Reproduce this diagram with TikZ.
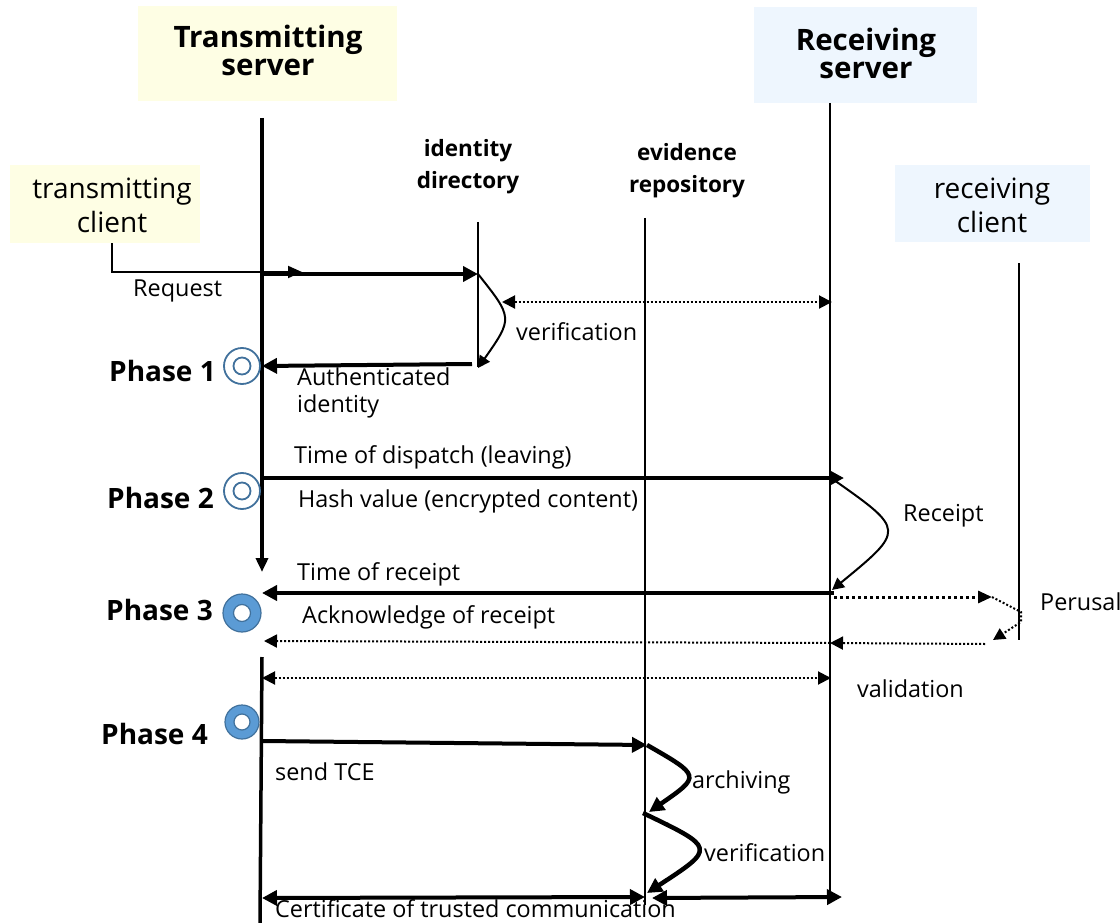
\documentclass[tikz,border=0pt]{standalone}
\usepackage{fontspec}
\setmainfont{Open Sans}
\usetikzlibrary{arrows.meta}
\definecolor{yellowbox}{HTML}{FEFEE4}
\definecolor{bluebox}{HTML}{EEF6FE}
\definecolor{ringline}{HTML}{41719C}
\definecolor{ringfill}{HTML}{5B9BD5}
\tikzset{
  hdr/.style={font=\fontsize{29.5}{28}\selectfont\bfseries, align=center, inner sep=0pt},
  sub/.style={font=\fontsize{22.5}{32}\selectfont\bfseries, align=center, inner sep=0pt},
  cli/.style={font=\fontsize{28}{34}\selectfont, align=center, inner sep=0pt},
  lbl/.style={font=\fontsize{23.4}{27}\selectfont, inner sep=0pt, anchor=west},
  phase/.style={font=\fontsize{28}{30}\selectfont\bfseries, inner sep=0pt, anchor=east},
  life/.style={line width=1.5pt},
  thick msg/.style={line width=4pt, -{Triangle[length=15pt,width=15pt]}},
  dot msg/.style={line width=2pt, dash pattern=on 2pt off 2pt, -{Triangle[length=13pt,width=13pt]}},
  ringo/.style={draw=ringline, line width=1.8pt},
}
\begin{document}
\begin{tikzpicture}[x=1pt,y=-1pt]
\useasboundingbox (0,0) rectangle (1120,923);
% header boxes
\fill[yellowbox] (138,6) rectangle (397,101);
\node[hdr] (ts) at (268,50) {Transmitting\\server};
\fill[bluebox] (754,7) rectangle (977,103);
\node[hdr] (rs) at (866,53) {Receiving\\server};
\fill[yellowbox] (10,165) rectangle (200,243);
\node[cli] (tc) at (112,205) {transmitting\\client};
\fill[bluebox] (895,165) rectangle (1090,242);
\node[cli] (rc) at (992,205) {receiving\\client};
\node[sub] (idd) at (468,167) {identity\\directory};
\node[sub] (evr) at (687,171) {evidence\\repository};

% coordinates
\coordinate (tsTop) at (262,118);
\coordinate (tsA) at (262,572);
\coordinate (tsB) at (262,657);
\coordinate (tsEnd) at (260,923);
\coordinate (rsTop) at (830,103);
\coordinate (rsEnd) at (830,900);
\coordinate (idTop) at (478,222);
\coordinate (idEnd) at (478,367);
\coordinate (evTop) at (645,218);
\coordinate (evEnd) at (645,905);
\coordinate (rcTop) at (1019,263);
\coordinate (rcEnd) at (1019,640);

% lifelines
\draw[line width=3.5pt, -{Triangle[length=14pt,width=12pt]}] (tsTop) -- (tsA);
\draw[line width=3.5pt] (tsB) -- (tsEnd);
\draw[life] (rsTop) -- (rsEnd);
\draw[life] (idTop) -- (idEnd);
\draw[life] (evTop) -- (evEnd);
\draw[life] (rcTop) -- (rcEnd);

% client request
\coordinate (tcB) at (112,243);
\coordinate (tcC) at (112,272);
\coordinate (tcD) at (302,272);
\draw[line width=2pt, -{Triangle[length=14pt,width=12pt]}] (tcB) -- (tcC) -- (tcD);
\node[lbl] (req) at (133,291) {Request};

% phase 1
\coordinate (p1a) at (262,274);
\coordinate (p1b) at (478,274);
\draw[thick msg] (p1a) -- (p1b);
\coordinate (v1e) at (478,368);
\draw[line width=2pt, -{Triangle[length=12pt,width=12pt]}] (p1b) .. controls (513,318) .. (v1e);
\coordinate (vd1) at (502,302);
\coordinate (vd2) at (832,302);
\draw[dot msg, {Triangle[length=13pt,width=13pt]}-{Triangle[length=13pt,width=13pt]}] (vd1) -- (vd2);
\node[lbl] (ver1) at (516,332) {verification};
\coordinate (au1) at (472,364);
\coordinate (au2) at (262,366);
\draw[thick msg] (au1) -- (au2);
\node[lbl, align=left, anchor=north west] (auth) at (297,368) {Authenticated\\identity};

% phase 2
\coordinate (p2a) at (262,478);
\coordinate (p2b) at (844,478);
\draw[thick msg] (p2a) -- (p2b);
\node[lbl] (tod) at (294,457) {Time of dispatch (leaving)};
\node[lbl] (hash) at (298,501) {Hash value (encrypted content)};
\coordinate (rc1) at (834,480);
\coordinate (rc2) at (832,590);
\draw[line width=2pt, -{Triangle[length=12pt,width=12pt]}] (rc1) .. controls (905,530) .. (rc2);
\node[lbl] (rec) at (903,516) {Receipt};

% phase 3
\coordinate (p3a) at (834,593);
\coordinate (p3b) at (262,593);
\draw[thick msg] (p3a) -- (p3b);
\node[lbl] (tor) at (297,574) {Time of receipt};
\coordinate (pe1) at (834,597);
\coordinate (pe2) at (992,597);
\draw[line width=3pt, dash pattern=on 3pt off 3pt, -{Triangle[length=14pt,width=12pt]}] (pe1) -- (pe2);
\coordinate (pe3) at (993,640);
\draw[line width=2pt, dash pattern=on 2pt off 2pt, -{Triangle[length=12pt,width=12pt]}] (pe2) -- (1021,612) -- (1021,622) -- (pe3);
\node[lbl] (per) at (1040,602) {Perusal};
\coordinate (ak1) at (985,644);
\coordinate (ak2) at (830,643);
\coordinate (ak3) at (264,641);
\draw[dot msg] (ak1) -- (ak2);
\draw[dot msg] (ak2) -- (ak3);
\node[lbl] (ack) at (302,617) {Acknowledge of receipt};
\coordinate (va1) at (262,678);
\coordinate (va2) at (831,678);
\draw[dot msg, {Triangle[length=13pt,width=13pt]}-{Triangle[length=13pt,width=13pt]}] (va1) -- (va2);
\node[lbl] (val) at (857,689) {validation};

% phase 4
\coordinate (p4a) at (262,741);
\coordinate (p4b) at (647,745);
\draw[thick msg] (p4a) -- (p4b);
\node[lbl] (tce) at (275,772) {send TCE};
\coordinate (ar2) at (649,812);
\draw[line width=4.5pt, -{Triangle[length=15pt,width=15pt]}] (p4b) .. controls (701,776) .. (ar2);
\node[lbl] (arch) at (692,782) {archiving};
\coordinate (ve1) at (643,813);
\coordinate (ve2) at (647,893);
\draw[line width=4.5pt, -{Triangle[length=15pt,width=15pt]}] (ve1) .. controls (716,848) .. (ve2);
\node[lbl] (ver2) at (704,853) {verification};
\coordinate (ce1) at (262,898);
\coordinate (ce2) at (645,897);
\draw[line width=4pt, {Triangle[length=15pt,width=15pt]}-{Triangle[length=15pt,width=15pt]}] (ce1) -- (ce2);
\coordinate (ce3) at (652,898);
\coordinate (ce4) at (842,897);
\draw[line width=4pt, {Triangle[length=15pt,width=15pt]}-{Triangle[length=15pt,width=15pt]}] (ce3) -- (ce4);
\node[lbl] (cert) at (275,909) {Certificate of trusted communication};

% phase markers
\node[phase] (ph1) at (216,371) {Phase 1};
\draw[ringo] (242,366) circle (18);
\draw[ringo] (242,366) circle (8.5);
\node[phase] (ph2) at (214,498) {Phase 2};
\draw[ringo] (242,491) circle (18);
\draw[ringo] (242,491) circle (8.5);
\node[phase] (ph3) at (213,610) {Phase 3};
\draw[draw=ringline, line width=1.2pt, fill=ringfill, even odd rule] (242,613) circle (19) (242,613) circle (8.5);
\node[phase] (ph4) at (208,734) {Phase 4};
\draw[draw=ringline, line width=1.2pt, fill=ringfill, even odd rule] (242,722) circle (17) (242,722) circle (8);
\end{tikzpicture}
\end{document}
